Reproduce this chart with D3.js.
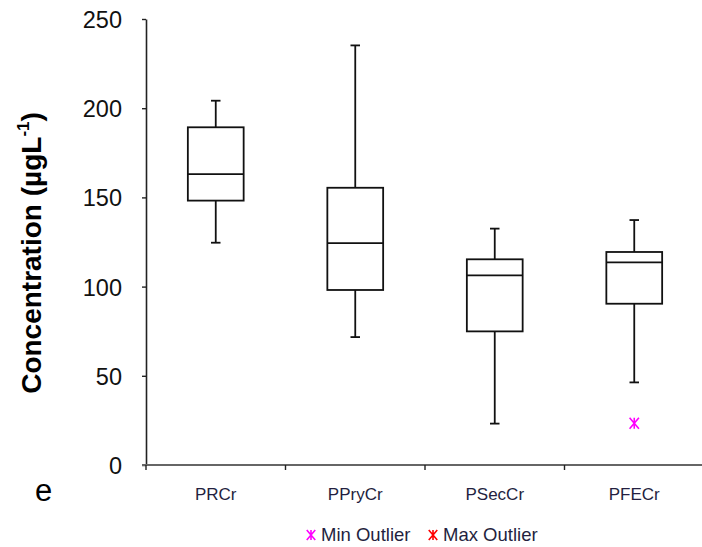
<!DOCTYPE html>
<html>
<head>
<meta charset="utf-8">
<script src="https://cdn.jsdelivr.net/npm/d3@7"></script>
<style>
  html, body { margin: 0; padding: 0; background: #fff; }
  svg { display: block; font-family: "Liberation Sans", Arial, sans-serif; }
</style>
</head>
<body>
<svg id="chart" width="702" height="547"></svg>
<script>
// ---- Data ----
const categories = ["PRCr", "PPryCr", "PSecCr", "PFECr"];
const whiskerMin = [124.6, 71.7, 23.2, 46.3];
const q1 = [148.2, 98.1, 74.9, 90.4];
const median = [163.1, 124.4, 106.3, 113.6];
const q3 = [189.3, 155.4, 115.3, 119.4];
const whiskerMax = [204.2, 235.2, 132.5, 137.3];
const minOutlier = [null, null, null, 23.4];
const yTicks = [0, 50, 100, 150, 200, 250];
const legendItems = ["Min Outlier", "Max Outlier"];
const legendColors = ["#ff00ff", "#ff0000"];

const boxes = categories.map((c, i) => ({
  cat: c, lo: whiskerMin[i], q1: q1[i], med: median[i], q3: q3[i], hi: whiskerMax[i], out: minOutlier[i]
}));

const svg = d3.select("#chart");

const x = d3.scaleBand().domain(categories).range([146, 704]).paddingInner(0).paddingOuter(0);
const y = d3.scaleLinear().domain([0, 250]).range([465, 19]);

// Y axis
const yAxis = svg.append("g").attr("transform", "translate(146,0)")
  .call(d3.axisLeft(y).tickValues(yTicks).tickSize(4).tickPadding(20).tickSizeOuter(0));
yAxis.select(".domain").attr("stroke", "#222").attr("stroke-width", 1.6);
yAxis.selectAll(".tick line").attr("stroke", "#222").attr("stroke-width", 1.4);
yAxis.selectAll(".tick text").attr("font-size", 23.5).attr("fill", "#111")
  .attr("font-family", "Liberation Sans, Arial, sans-serif").attr("dy", "0.36em");

// X axis
const xAxis = svg.append("g").attr("transform", "translate(0,465)")
  .call(d3.axisBottom(x).tickSize(0).tickPadding(20).tickSizeOuter(0));
xAxis.select(".domain").remove();
svg.append("line").attr("x1", 142).attr("x2", 702).attr("y1", 465).attr("y2", 465)
  .attr("stroke", "#666").attr("stroke-width", 2);
// tick marks at band boundaries
svg.append("g").selectAll("line").data(categories).join("line")
  .attr("x1", d => x(d)).attr("x2", d => x(d))
  .attr("y1", 465).attr("y2", 470).attr("stroke", "#222").attr("stroke-width", 1.4);
xAxis.selectAll(".tick text").attr("font-size", 17).attr("fill", "#241f40")
  .attr("font-family", "Liberation Sans, Arial, sans-serif")
  .attr("dy", "0em").attr("y", 35);

// Boxes
const bw = x.bandwidth() * 0.4;
const capW = 9.5;
const g = svg.append("g").attr("stroke", "#111").attr("stroke-width", 1.8).attr("fill", "none");
boxes.forEach(b => {
  const cx = x(b.cat) + x.bandwidth() / 2;
  g.append("line").attr("x1", cx).attr("x2", cx).attr("y1", y(b.hi)).attr("y2", y(b.q3));
  g.append("line").attr("x1", cx).attr("x2", cx).attr("y1", y(b.q1)).attr("y2", y(b.lo));
  g.append("line").attr("x1", cx - capW / 2).attr("x2", cx + capW / 2).attr("y1", y(b.hi)).attr("y2", y(b.hi));
  g.append("line").attr("x1", cx - capW / 2).attr("x2", cx + capW / 2).attr("y1", y(b.lo)).attr("y2", y(b.lo));
  g.append("rect").attr("x", cx - bw / 2).attr("y", y(b.q3)).attr("width", bw)
    .attr("height", y(b.q1) - y(b.q3)).attr("fill", "#fff");
  g.append("line").attr("x1", cx - bw / 2).attr("x2", cx + bw / 2).attr("y1", y(b.med)).attr("y2", y(b.med));
});

// Asterisk marker
function star(sel, cx, cy, r, color) {
  const w = r * 0.85;
  const p = `M${cx - w},${cy - r}L${cx + w},${cy + r}M${cx + w},${cy - r}L${cx - w},${cy + r}M${cx},${cy - r}L${cx},${cy + r}`;
  sel.append("path").attr("d", p).attr("stroke", color).attr("stroke-width", 1.6).attr("fill", "none");
}
const outG = svg.append("g");
boxes.forEach(b => {
  if (b.out != null) star(outG, x(b.cat) + x.bandwidth() / 2, y(b.out), 5.5, legendColors[0]);
});

// Y label
const yl = svg.append("text").attr("transform", "translate(41,253) rotate(-90)")
  .attr("text-anchor", "middle").attr("font-size", 28).attr("font-weight", "bold").attr("fill", "#000");
yl.append("tspan").text("Concentration (µgL");
yl.append("tspan").attr("font-size", 17).attr("dy", -12).text("-1");
yl.append("tspan").attr("dy", 12).text(")");

// panel letter
svg.append("text").attr("x", 35).attr("y", 501).attr("font-size", 31).attr("fill", "#000").text("e");

// Legend
const legX = [311, 433];
legendItems.forEach((t, i) => {
  star(svg, legX[i], 535, 5, legendColors[i]);
  svg.append("text").attr("x", legX[i] + 10).attr("y", 541).attr("font-size", 18.5)
    .attr("fill", "#241f40").text(t);
});
</script>
</body>
</html>
